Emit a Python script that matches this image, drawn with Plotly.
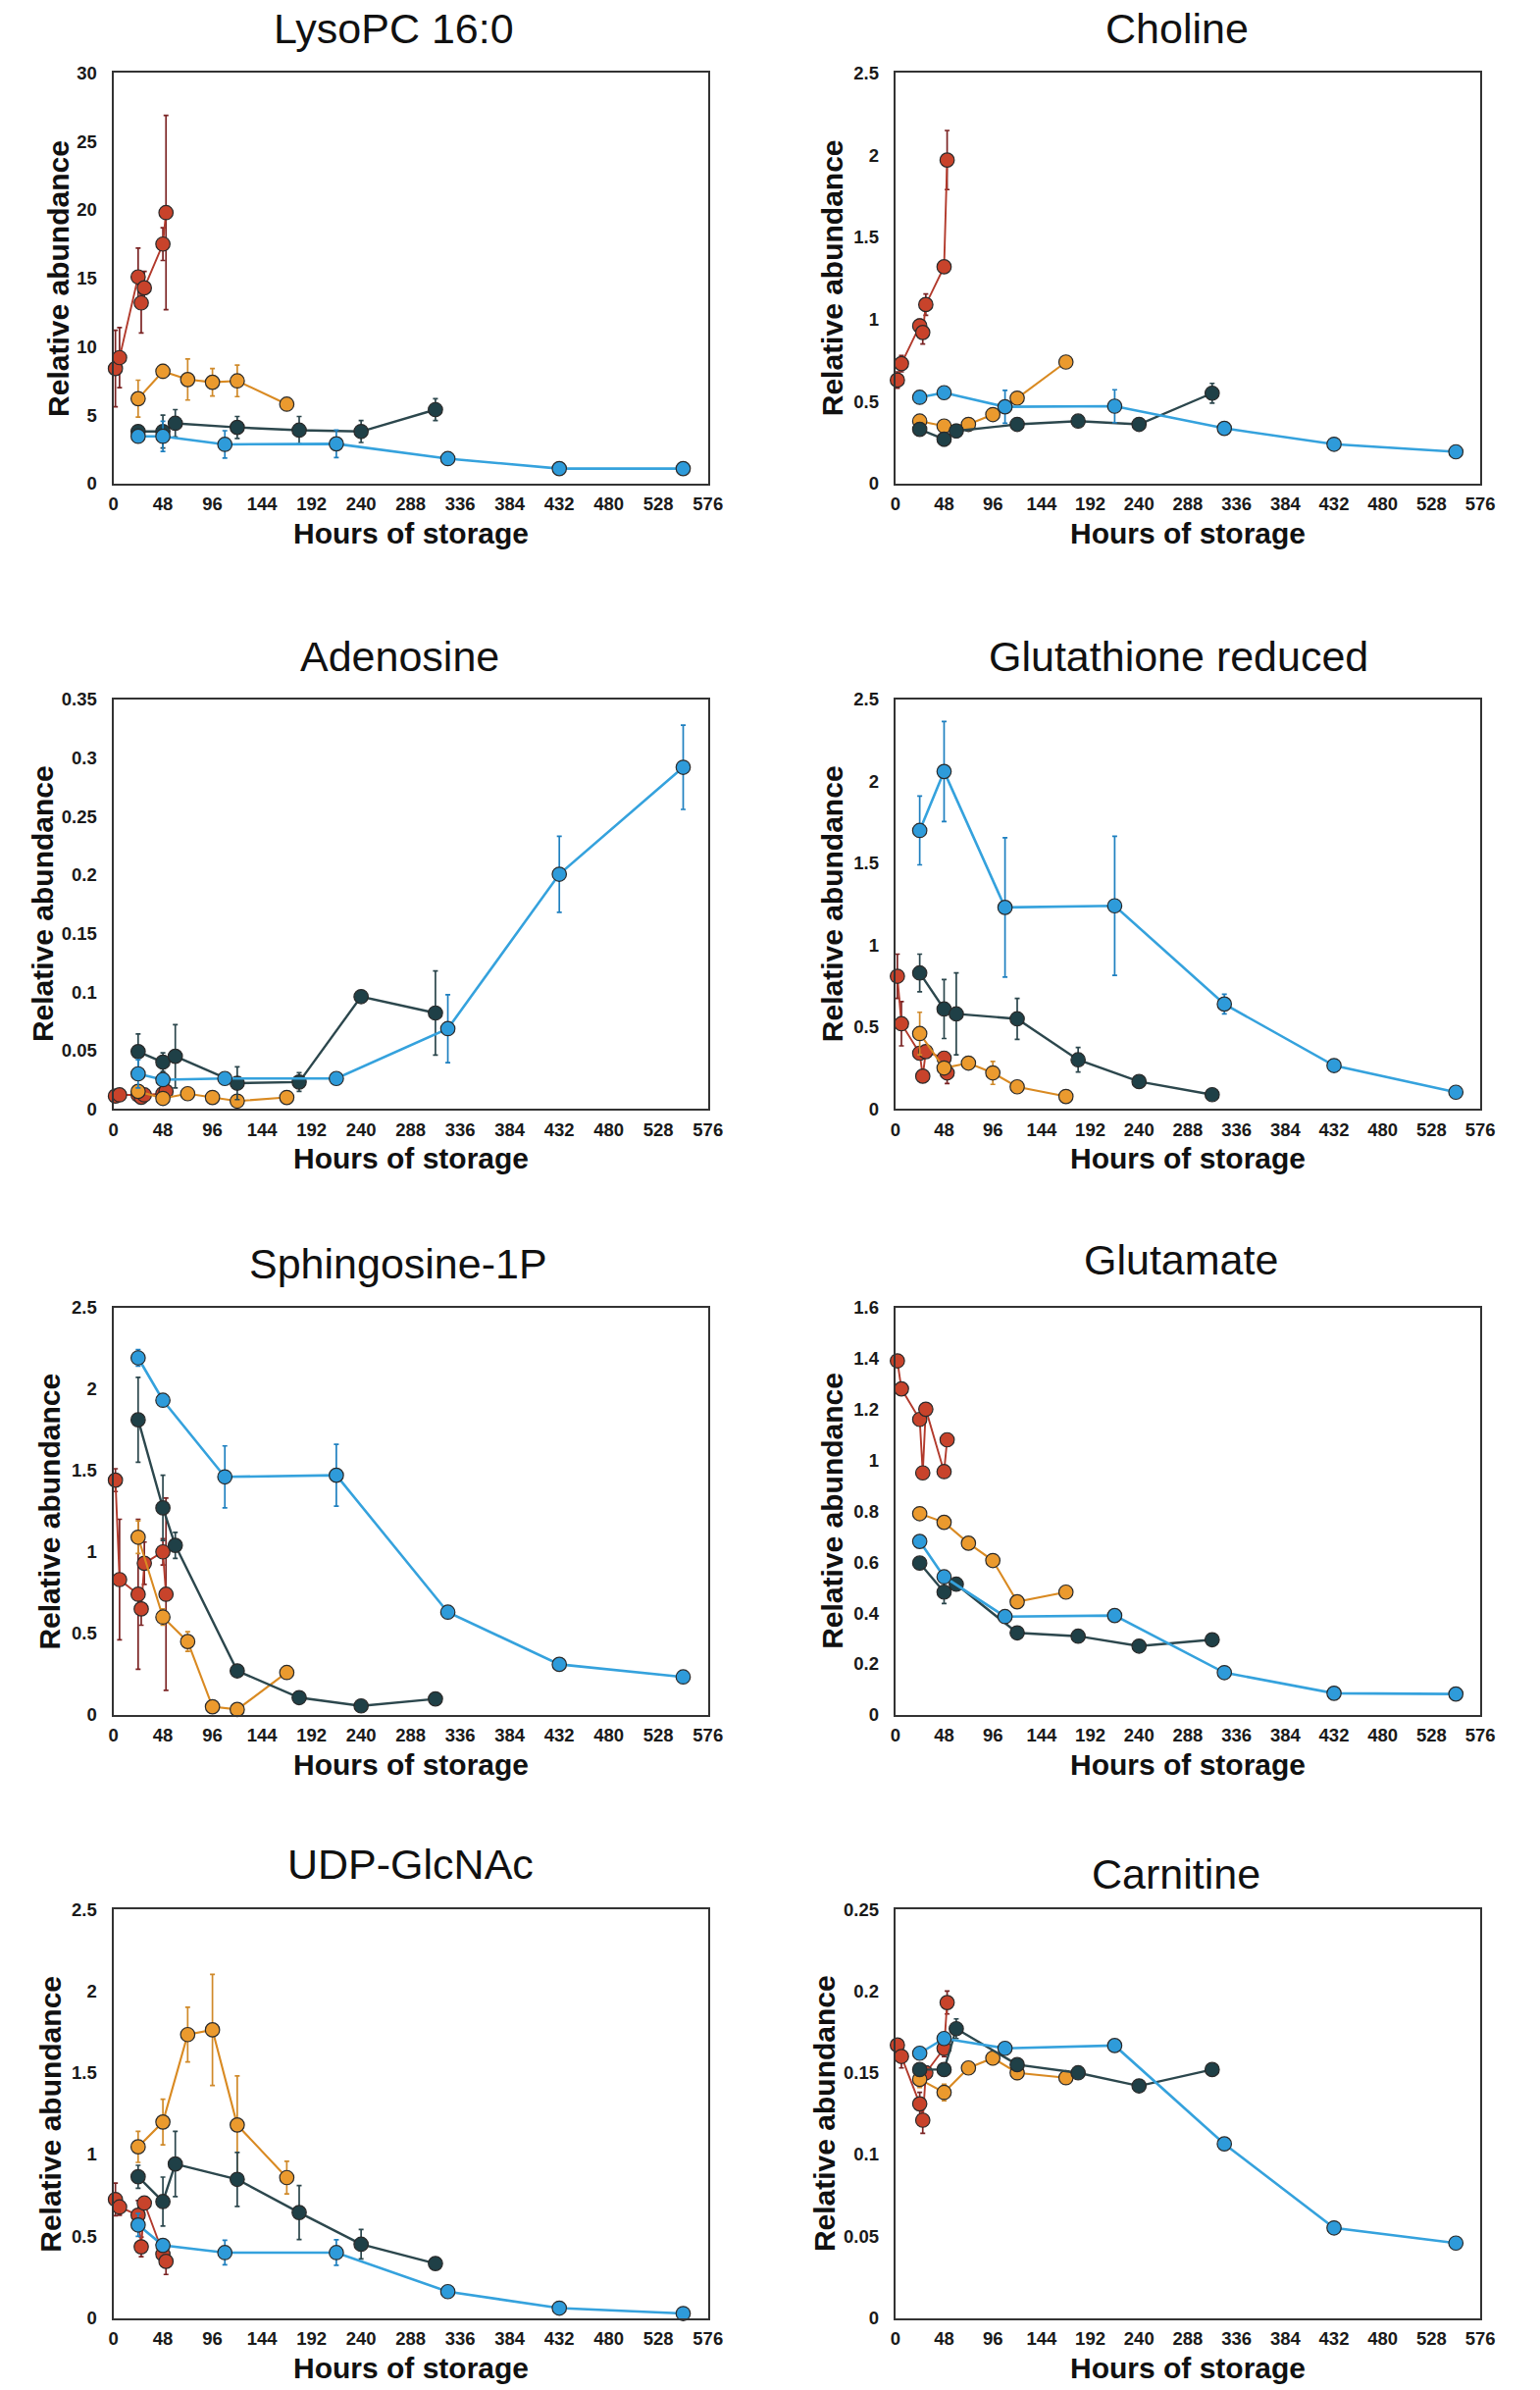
import plotly.graph_objects as go

W, H = 1570, 2436

# ---------------- data ----------------
hours_red = [2, 6, 24, 27, 30, 48, 51]
hours_orange = [24, 48, 72, 96, 120, 168]
hours_dark = [24, 48, 60, 120, 180, 240, 312]
hours_blue = [24, 48, 108, 216, 324, 432, 552]

x_ticks = [0, 48, 96, 144, 192, 240, 288, 336, 384, 432, 480, 528, 576]

titles = ["LysoPC 16:0", "Choline", "Adenosine", "Glutathione reduced",
          "Sphingosine-1P", "Glutamate", "UDP-GlcNAc", "Carnitine"]

# LysoPC 16:0
lyso_red = [8.4, 9.2, 15.1, 13.2, 14.3, 17.5, 19.8]
lyso_red_err = [2.8, 2.2, 2.1, 2.2, 1.2, 1.2, 7.1]
lyso_orange = [6.2, 8.2, 7.6, 7.4, 7.5, 5.8]
lyso_orange_err = [1.35, 0.5, 1.5, 1.0, 1.15, 0.2]
lyso_dark = [3.8, 3.8, 4.4, 4.1, 3.9, 3.8, 5.4]
lyso_dark_err = [0.3, 1.2, 1.0, 0.8, 1.0, 0.8, 0.8]
lyso_blue = [3.45, 3.45, 2.86, 2.9, 1.82, 1.09, 1.09]
lyso_blue_err = [0.3, 1.1, 1.0, 1.0, 0.2, 0.1, 0.1]
lyso_yticks = [0, 5, 10, 15, 20, 25, 30]

# Choline
chol_red = [0.63, 0.73, 0.96, 0.92, 1.09, 1.32, 1.97]
chol_red_err = [0.05, 0.05, 0.04, 0.07, 0.065, 0.02, 0.18]
chol_orange = [0.38, 0.35, 0.36, 0.42, 0.52, 0.74]
chol_orange_err = [0.02, 0.02, 0.02, 0.02, 0.02, 0.01]
chol_dark = [0.33, 0.27, 0.32, 0.36, 0.38, 0.36, 0.55]
chol_dark_err = [0.03, 0.04, 0.04, 0.03, 0.03, 0.03, 0.06]
chol_blue = [0.525, 0.553, 0.467, 0.471, 0.336, 0.239, 0.193]
chol_blue_err = [0.02, 0.02, 0.1, 0.1, 0.01, 0.01, 0.01]
chol_yticks = [0, 0.5, 1, 1.5, 2, 2.5]

# Adenosine
aden_red = [0.011, 0.012, 0.012, 0.010, 0.012, 0.013, 0.015]
aden_red_err = [0.002, 0.002, 0.002, 0.002, 0.002, 0.002, 0.002]
aden_orange = [0.015, 0.009, 0.013, 0.0098, 0.0067, 0.0098]
aden_orange_err = [0.004, 0.002, 0.002, 0.002, 0.002, 0.001]
aden_dark = [0.049, 0.040, 0.045, 0.022, 0.023, 0.096, 0.082]
aden_dark_err = [0.015, 0.008, 0.027, 0.014, 0.008, 0.003, 0.036]
aden_blue = [0.030, 0.025, 0.026, 0.026, 0.0686, 0.2006, 0.292]
aden_blue_err = [0.012, 0.003, 0.002, 0.002, 0.029, 0.0325, 0.036]
aden_yticks = [0, 0.05, 0.1, 0.15, 0.2, 0.25, 0.3, 0.35]

# Glutathione reduced
gsh_red = [0.81, 0.52, 0.34, 0.20, 0.35, 0.31, 0.22]
gsh_red_err = [0.135, 0.135, 0.03, 0.03, 0.03, 0.03, 0.065]
gsh_orange = [0.46, 0.25, 0.28, 0.22, 0.135, 0.076]
gsh_orange_err = [0.13, 0.03, 0.02, 0.07, 0.02, 0.01]
gsh_dark = [0.83, 0.61, 0.58, 0.55, 0.30, 0.167, 0.087]
gsh_dark_err = [0.115, 0.18, 0.25, 0.125, 0.075, 0.02, 0.01]
gsh_blue = [1.70, 2.06, 1.23, 1.24, 0.64, 0.265, 0.102]
gsh_blue_err = [0.21, 0.305, 0.425, 0.425, 0.06, 0.02, 0.01]
gsh_yticks = [0, 0.5, 1, 1.5, 2, 2.5]

# Sphingosine-1P
s1p_red = [1.44, 0.83, 0.74, 0.65, 0.93, 1.0, 0.74]
s1p_red_err = [0.07, 0.37, 0.46, 0.1, 0.13, 0.08, 0.59]
s1p_orange = [1.09, 0.60, 0.45, 0.05, 0.033, 0.26]
s1p_orange_err = [0.1, 0.05, 0.06, 0.01, 0.01, 0.01]
s1p_dark = [1.81, 1.27, 1.04, 0.27, 0.106, 0.055, 0.098]
s1p_dark_err = [0.26, 0.2, 0.08, 0.02, 0.01, 0.01, 0.01]
s1p_blue = [2.19, 1.93, 1.46, 1.47, 0.63, 0.31, 0.233]
s1p_blue_err = [0.05, 0.02, 0.19, 0.19, 0.02, 0.02, 0.02]
s1p_yticks = [0, 0.5, 1, 1.5, 2, 2.5]

# Glutamate
glu_red = [1.39, 1.28, 1.16, 0.95, 1.20, 0.955, 1.08]
glu_red_err = [0.01, 0.01, 0.01, 0.01, 0.01, 0.01, 0.01]
glu_orange = [0.79, 0.756, 0.674, 0.606, 0.444, 0.482]
glu_orange_err = [0.01, 0.01, 0.01, 0.01, 0.01, 0.01]
glu_dark = [0.596, 0.482, 0.513, 0.322, 0.309, 0.270, 0.295]
glu_dark_err = [0.01, 0.045, 0.01, 0.01, 0.01, 0.01, 0.01]
glu_blue = [0.681, 0.542, 0.386, 0.390, 0.166, 0.085, 0.082]
glu_blue_err = [0.01, 0.01, 0.01, 0.01, 0.01, 0.01, 0.01]
glu_yticks = [0, 0.2, 0.4, 0.6, 0.8, 1, 1.2, 1.4, 1.6]

# UDP-GlcNAc
udp_red = [0.725, 0.679, 0.629, 0.435, 0.703, 0.391, 0.346]
udp_red_err = [0.1, 0.05, 0.09, 0.06, 0.03, 0.05, 0.08]
udp_orange = [1.047, 1.199, 1.734, 1.763, 1.181, 0.859]
udp_orange_err = [0.095, 0.14, 0.167, 0.34, 0.3, 0.1]
udp_dark = [0.864, 0.712, 0.942, 0.848, 0.645, 0.451, 0.333]
udp_dark_err = [0.07, 0.15, 0.2, 0.165, 0.165, 0.09, 0.02]
udp_blue = [0.569, 0.444, 0.40, 0.40, 0.161, 0.060, 0.027]
udp_blue_err = [0.07, 0.03, 0.075, 0.078, 0.01, 0.01, 0.01]
udp_yticks = [0, 0.5, 1, 1.5, 2, 2.5]

# Carnitine
carn_red = [0.167, 0.160, 0.131, 0.121, 0.150, 0.165, 0.193]
carn_red_err = [0.003, 0.007, 0.007, 0.008, 0.004, 0.005, 0.007]
carn_orange = [0.146, 0.138, 0.153, 0.159, 0.150, 0.147]
carn_orange_err = [0.005, 0.005, 0.002, 0.004, 0.004, 0.002]
carn_dark = [0.152, 0.152, 0.177, 0.155, 0.150, 0.142, 0.152]
carn_dark_err = [0.002, 0.002, 0.006, 0.002, 0.002, 0.002, 0.002]
carn_blue = [0.162, 0.171, 0.165, 0.1667, 0.1065, 0.0551, 0.0458]
carn_blue_err = [0.002, 0.002, 0.002, 0.002, 0.002, 0.002, 0.002]
carn_yticks = [0, 0.05, 0.1, 0.15, 0.2, 0.25]

panel_series = [
    (lyso_red, lyso_red_err, lyso_orange, lyso_orange_err, lyso_dark, lyso_dark_err, lyso_blue, lyso_blue_err, lyso_yticks),
    (chol_red, chol_red_err, chol_orange, chol_orange_err, chol_dark, chol_dark_err, chol_blue, chol_blue_err, chol_yticks),
    (aden_red, aden_red_err, aden_orange, aden_orange_err, aden_dark, aden_dark_err, aden_blue, aden_blue_err, aden_yticks),
    (gsh_red, gsh_red_err, gsh_orange, gsh_orange_err, gsh_dark, gsh_dark_err, gsh_blue, gsh_blue_err, gsh_yticks),
    (s1p_red, s1p_red_err, s1p_orange, s1p_orange_err, s1p_dark, s1p_dark_err, s1p_blue, s1p_blue_err, s1p_yticks),
    (glu_red, glu_red_err, glu_orange, glu_orange_err, glu_dark, glu_dark_err, glu_blue, glu_blue_err, glu_yticks),
    (udp_red, udp_red_err, udp_orange, udp_orange_err, udp_dark, udp_dark_err, udp_blue, udp_blue_err, udp_yticks),
    (carn_red, carn_red_err, carn_orange, carn_orange_err, carn_dark, carn_dark_err, carn_blue, carn_blue_err, carn_yticks),
]

# ---------------- styling / layout ----------------
FONT = "Liberation Sans, Arial, sans-serif"
styles = {
    "red":    dict(fill="#C8432B", line="#B23A2C", err="#7B2424", width=1.9),
    "orange": dict(fill="#EB9A2E", line="#D98A22", err="#D08A2A", width=2.1),
    "dark":   dict(fill="#1F4047", line="#2C474D", err="#2C474D", width=2.4),
    "blue":   dict(fill="#2E9BDA", line="#35A2DD", err="#1F80C0", width=2.6),
}

col_px = [(112, 726), (919.5, 1523.5)]
row_px = [(64, 486), (708, 1129), (1333, 1752), (1952, 2372)]
title_pos = [(402, 18), (1210, 18), (408, 664), (1212, 664),
             (406, 1288), (1214, 1284), (419, 1905), (1209, 1916)]
ytitle_offset = [57, 65, 73, 65, 66, 65, 65, 73]
xtitle_gap = 51


def px_x(v):
    return v / W


def px_y(v):
    return 1 - v / H


fig = go.Figure()
annotations = []
layout_axes = {}

for i, series in enumerate(panel_series):
    r, c = divmod(i, 2)
    (red, red_e, org, org_e, dk, dk_e, bl, bl_e, yt) = series
    ax_id = "" if i == 0 else str(i + 1)
    xref, yref = "x" + ax_id, "y" + ax_id
    groups = [
        ("red", hours_red, red, red_e),
        ("orange", hours_orange, org, org_e),
        ("dark", hours_dark, dk, dk_e),
        ("blue", hours_blue, bl, bl_e),
    ]
    for name, xs, ys, es in groups:
        st = styles[name]
        fig.add_trace(go.Scatter(
            x=xs, y=ys, mode="lines+markers", xaxis=xref, yaxis=yref,
            line=dict(color=st["line"], width=st["width"]),
            marker=dict(size=14.5, color=st["fill"], line=dict(color="#2a2a2a", width=1.2)),
            error_y=dict(type="data", array=es, visible=True, color=st["err"],
                         thickness=1.7, width=2.5),
            cliponaxis=False, showlegend=False, hoverinfo="x+y",
        ))

    x0, x1 = col_px[c]
    y0, y1 = row_px[r]
    axis_common = dict(showline=True, mirror=True, linecolor="#333333", linewidth=2.2,
                       showgrid=False, zeroline=False, ticks="",
                       tickfont=dict(family=FONT, size=18.5, color="#1a1a1a", weight="bold"))
    layout_axes["xaxis" + ax_id] = dict(
        domain=[px_x(x0), px_x(x1)], anchor=yref, range=[0, 576],
        tickvals=x_ticks, ticktext=[str(v) for v in x_ticks],
        ticklabelstandoff=3, **axis_common)
    layout_axes["yaxis" + ax_id] = dict(
        domain=[px_y(y1), px_y(y0)], anchor=xref, range=[0, yt[-1]],
        tickvals=yt, ticktext=[f"{v:g}" for v in yt],
        ticklabelstandoff=11, **axis_common)

    tx, ty = title_pos[i]
    annotations.append(dict(text=titles[i], x=px_x(tx), y=px_y(ty), xref="paper", yref="paper",
                            showarrow=False, xanchor="center", yanchor="middle",
                            font=dict(family=FONT, size=43, color="#111111")))
    annotations.append(dict(text="Hours of storage", x=px_x((x0 + x1) / 2), y=px_y(y1 + xtitle_gap),
                            xref="paper", yref="paper", showarrow=False,
                            xanchor="center", yanchor="middle",
                            font=dict(family=FONT, size=30, color="#111111", weight="bold")))
    annotations.append(dict(text="Relative abundance", x=px_x(x0 - ytitle_offset[i]),
                            y=px_y((y0 + y1) / 2), xref="paper", yref="paper",
                            showarrow=False, textangle=-90, xanchor="center", yanchor="middle",
                            font=dict(family=FONT, size=30, color="#111111", weight="bold")))

fig.update_layout(
    width=W, height=H, margin=dict(l=0, r=0, t=0, b=0),
    paper_bgcolor="white", plot_bgcolor="white",
    showlegend=False, annotations=annotations, **layout_axes,
)

fig.write_html("out.html")
